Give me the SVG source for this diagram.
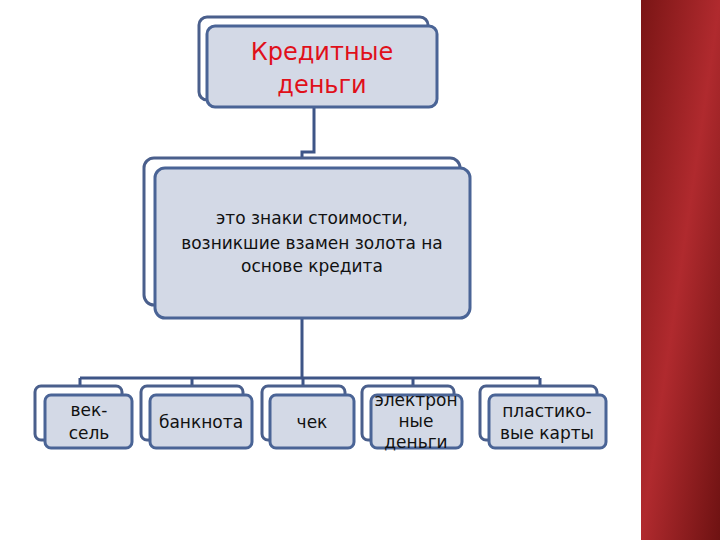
<svg xmlns="http://www.w3.org/2000/svg" width="720" height="540" viewBox="0 0 720 540">
<style>
.b{fill:#fff;stroke:#4a5f8c;stroke-width:3}
.f{fill:#d3d9e6;stroke:#4a6496;stroke-width:3}
.t{font-family:"DejaVu Sans",sans-serif;fill:#111;text-anchor:middle;font-size:17px}
.c{fill:none;stroke:#3e5587;stroke-width:3}
</style>
<defs><linearGradient id="g" x1="0" y1="0" x2="1" y2="1"><stop offset="0" stop-color="#7a1515"/><stop offset="0.5" stop-color="#b02a2e"/><stop offset="1" stop-color="#6e1212"/></linearGradient></defs>
<rect width="720" height="540" fill="#fff"/>
<rect x="641" y="0" width="79" height="540" fill="url(#g)"/>
<g id="connectors">
<path class="c" d="M314 107V152H302V160"/>
<path class="c" d="M302 318V378M80 378H540M80 378V388M192 378V388M303 378V388M413 378V388M540 378V388"/>
</g>
<g id="n0"><rect class="b" x="199" y="17" width="229" height="83" rx="8"/><rect class="f" x="207" y="26" width="230" height="81" rx="8"/>
<text class="t" style="font-size:24px;fill:#e0101a" x="322" y="60">Кредитные</text><text class="t" style="font-size:24px;fill:#e0101a" x="322" y="93">деньги</text></g>
<g id="n1"><rect class="b" x="144" y="158" width="316" height="147" rx="10"/><rect class="f" x="155" y="168" width="315" height="150" rx="10"/>
<text class="t" x="312" y="224">это знаки стоимости,</text><text class="t" x="312" y="249">возникшие взамен золота на</text><text class="t" x="312" y="272">основе кредита</text></g>
<g id="n2"><rect class="b" x="35" y="386" width="87" height="54" rx="6"/><rect class="f" x="45" y="395" width="87" height="53" rx="6"/>
<text class="t" x="89" y="416">век-</text><text class="t" x="89" y="439">сель</text></g>
<g id="n3"><rect class="b" x="141" y="386" width="102" height="54" rx="6"/><rect class="f" x="150" y="395" width="102" height="53" rx="6"/>
<text class="t" x="201" y="428">банкнота</text></g>
<g id="n4"><rect class="b" x="262" y="386" width="83" height="54" rx="6"/><rect class="f" x="270" y="395" width="84" height="53" rx="6"/>
<text class="t" x="312" y="428">чек</text></g>
<g id="n5"><rect class="b" x="362" y="386" width="92" height="54" rx="6"/><rect class="f" x="371" y="395" width="91" height="53" rx="6"/>
<text class="t" x="416" y="406">электрон</text><text class="t" x="416" y="427">ные</text><text class="t" x="416" y="448">деньги</text></g>
<g id="n6"><rect class="b" x="480" y="386" width="117" height="54" rx="6"/><rect class="f" x="489" y="395" width="117" height="53" rx="6"/>
<text class="t" x="547" y="417">пластико-</text><text class="t" x="547" y="439">вые карты</text></g>
</svg>
